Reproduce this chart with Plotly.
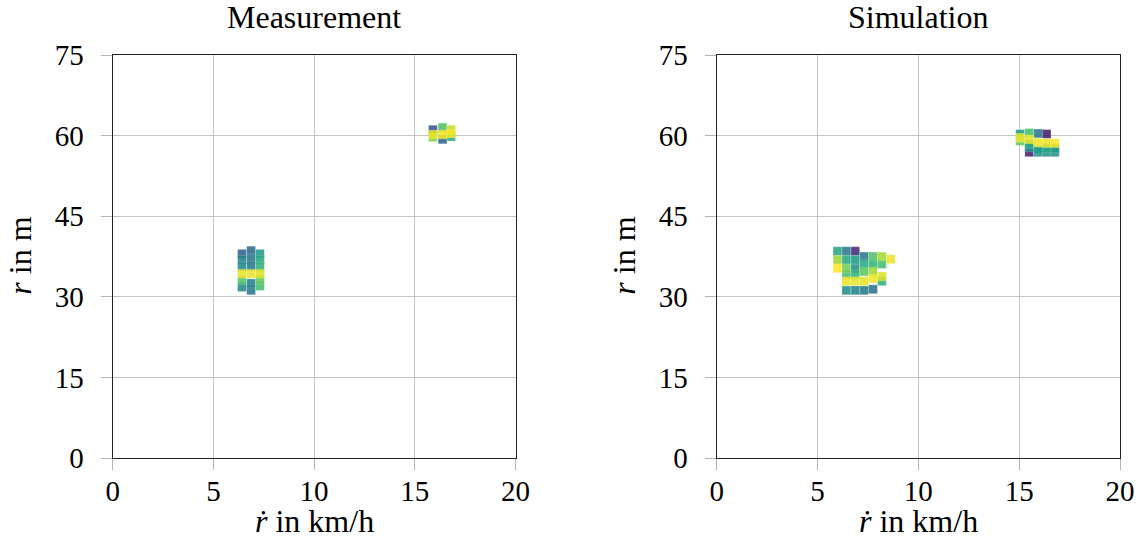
import plotly.graph_objects as go
import numpy as np

# ---------------- data ----------------
# Measurement: (r_dot in km/h, r in m, normalized intensity)
meas_x = [6.42, 6.42, 6.42, 6.42, 6.42, 6.42,
          6.87, 6.87, 6.87, 6.87, 6.87, 6.87,
          7.31, 7.31, 7.31, 7.31, 7.31, 7.31,
          15.90, 15.90, 15.90,
          16.38, 16.38, 16.38,
          16.80, 16.80, 16.80]
meas_r = [31.8, 33.1, 34.3, 35.6, 36.9, 38.0,
          31.2, 32.5, 34.3, 35.7, 37.1, 38.6,
          32.0, 33.2, 34.3, 35.6, 36.9, 38.0,
          61.1, 60.2, 59.7,
          61.5, 59.3, 60.2,
          61.1, 59.8, 60.4]
meas_v = [0.48, 0.72, 0.98, 0.48, 0.45, 0.32,
          0.40, 0.44, 0.97, 0.42, 0.40, 0.36,
          0.70, 0.75, 0.95, 0.65, 0.60, 0.55,
          0.26, 0.97, 0.80,
          0.72, 0.32, 0.98,
          0.90, 0.62, 0.99]

# Simulation
sim_x = [5.99, 5.99, 5.99,
         6.43, 6.43, 6.43, 6.43, 6.43, 6.43,
         6.87, 6.87, 6.87, 6.87, 6.87, 6.87,
         7.31, 7.31, 7.31, 7.31, 7.31,
         7.75, 7.75, 7.75, 7.75, 7.75,
         8.19, 8.19, 8.19, 8.19,
         8.63,
         15.05, 15.05, 15.05,
         15.50, 15.50, 15.50, 15.50, 15.50,
         15.94, 15.94, 15.94, 15.94,
         16.36, 16.36, 16.36, 16.36,
         16.77, 16.77, 16.77]
sim_r = [38.5, 36.9, 35.3,
         38.5, 36.9, 35.3, 34.1, 32.9, 31.2,
         38.5, 36.9, 35.3, 34.1, 32.9, 31.2,
         37.5, 36.1, 34.7, 32.9, 31.2,
         37.5, 36.1, 34.7, 33.4, 31.4,
         37.5, 36.1, 33.8, 32.9,
         37.0,
         60.3, 59.0, 59.6,
         60.5, 58.4, 57.8, 56.9, 59.3,
         60.4, 58.7, 57.4, 56.9,
         60.3, 58.6, 56.9, 57.6,
         58.6, 56.9, 57.6]
sim_v = [0.60, 0.85, 1.00,
         0.40, 0.60, 0.78, 0.70, 0.98, 0.50,
         0.12, 0.55, 0.50, 0.65, 0.97, 0.45,
         0.40, 0.60, 0.75, 0.96, 0.42,
         0.72, 0.65, 0.85, 0.98, 0.38,
         0.86, 0.70, 0.95, 0.65,
         0.97,
         0.55, 0.75, 0.97,
         0.70, 0.60, 0.50, 0.10, 0.97,
         0.40, 0.98, 0.55, 0.50,
         0.08, 0.97, 0.50, 0.60,
         0.99, 0.50, 0.55]

x_ticks = [0, 5, 10, 15, 20]
y_ticks = [0, 15, 30, 45, 60, 75]
titles = ["Measurement", "Simulation"]

FONT = "Liberation Serif"
FS_TICK = 29
FS_TITLE = 32
FS_LABEL = 32

W, H = 1140, 540


def ordered(xs, rs, vs):
    idx = np.argsort(np.array(vs), kind="stable")
    return ([xs[i] for i in idx], [rs[i] for i in idx], [vs[i] for i in idx])


fig = go.Figure()
for k, (xs, rs, vs) in enumerate([(meas_x, meas_r, meas_v), (sim_x, sim_r, sim_v)]):
    ox, orr, ov = ordered(xs, rs, vs)
    fig.add_trace(go.Scatter(
        x=ox, y=orr, mode="markers",
        xaxis="x" if k == 0 else "x2", yaxis="y" if k == 0 else "y2",
        marker=dict(symbol="square", size=8.8, color=ov, colorscale="Viridis",
                    cmin=0, cmax=1, showscale=False, opacity=0.88,
                    line=dict(width=0.6, color="rgba(255,255,255,0.35)")),
        showlegend=False, hoverinfo="skip"))

ax_common = dict(showline=True, linecolor="#222222", linewidth=1.3, mirror=True,
                 showgrid=True, gridcolor="#c4c4c4", gridwidth=1,
                 zeroline=False, ticks="outside", ticklen=11, tickcolor="#b4b4b4",
                 automargin=False,
                 tickfont=dict(family=FONT, size=FS_TICK, color="black"))

# pixel positions of the plot frames
px_x = [(112.7, 515.5), (716.7, 1120.0)]
py_top, py_bot = 55, 458


def fx(p):
    return p / W


def fy(p):
    return 1 - p / H


xd = [[fx(a), fx(b)] for a, b in px_x]
yd = [fy(py_bot), fy(py_top)]

layout = dict(width=W, height=H, margin=dict(l=0, r=0, t=0, b=0, pad=0),
              plot_bgcolor="white", paper_bgcolor="white",
              font=dict(family=FONT, size=FS_TICK, color="black"))
for k in range(2):
    sx = "" if k == 0 else "2"
    layout["xaxis" + sx] = dict(ax_common, domain=xd[k], range=[0, 20],
                                tickvals=x_ticks, anchor="y" + sx,
                                ticklabelstandoff=-4)
    layout["yaxis" + sx] = dict(ax_common, domain=yd, range=[0, 75],
                                tickvals=y_ticks, anchor="x" + sx,
                                ticklabelstandoff=11)
fig.update_layout(**layout)

ann = []
for k in range(2):
    cx = (xd[k][0] + xd[k][1]) / 2
    ann.append(dict(text=titles[k], x=cx, y=fy(17), xref="paper", yref="paper",
                    xanchor="center", yanchor="middle", showarrow=False,
                    font=dict(family=FONT, size=FS_TITLE)))
    ann.append(dict(text="<i>ṙ</i> in km/h", x=cx, y=fy(521), xref="paper", yref="paper",
                    xanchor="center", yanchor="middle", showarrow=False,
                    font=dict(family=FONT, size=FS_LABEL)))
    ann.append(dict(text="<i>r</i> in m", x=fx(px_x[k][0] - 93), y=fy(256),
                    xref="paper", yref="paper", textangle=-90,
                    xanchor="center", yanchor="middle", showarrow=False,
                    font=dict(family=FONT, size=FS_LABEL)))
fig.update_layout(annotations=ann)

fig.write_html("out.html", config={"displayModeBar": False},
               post_script="document.body.style.margin='0';document.body.style.padding='0';")
